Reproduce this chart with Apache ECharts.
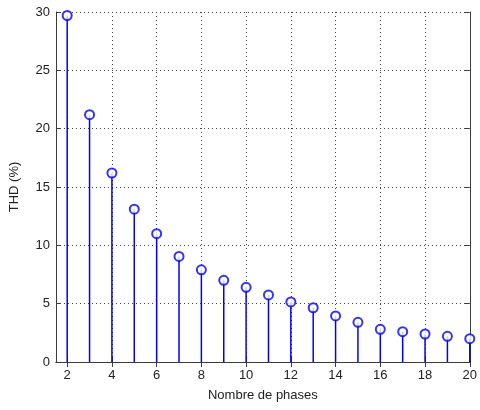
<!DOCTYPE html>
<html lang="fr">
<head>
  <meta charset="UTF-8">
  <title>THD</title>
  <style>body{margin:0;background:#fff}</style>
</head>
<body>
  <div id="main" style="width:480px;height:410px;"></div>
  <script src="https://cdn.jsdelivr.net/npm/echarts@6/dist/echarts.min.js"></script>
  <script>
    // nombre de phases et THD
    var phases = [2, 3, 4, 5, 6, 7, 8, 9, 10, 11, 12, 13, 14, 15, 16, 17, 18, 19, 20];
    var thd = [29.7, 21.2, 16.2, 13.1, 11.0, 9.05, 7.9, 7.0, 6.4, 5.75, 5.15, 4.65, 3.95, 3.4, 2.8, 2.6, 2.4, 2.2, 2.0];
    var xTicks = [2, 4, 6, 8, 10, 12, 14, 16, 18, 20];
    var yTicks = [0, 5, 10, 15, 20, 25, 30];

    var points = phases.map(function (p, i) { return [p, thd[i]]; });
    var axisCol = '#3c3c3c';
    var font = 'Arial, "Liberation Sans", sans-serif';

    var chart = echarts.init(document.getElementById('main'));

    // axe x : la boite commence un peu avant 2 (comme matlab)
    function xAxis(pos, show) {
      return {
        type: 'value', position: pos,
        min: 1.5, max: 20,
        name: show ? 'Nombre de phases' : '', nameLocation: 'middle', nameGap: 27,
        nameTextStyle: { fontFamily: font, fontSize: 13, color: '#222' },
        axisLine: { show: true, lineStyle: { color: axisCol, width: 1 } },
        axisTick: { show: true, inside: true, length: 5, customValues: xTicks, lineStyle: { color: axisCol } },
        axisLabel: { show: show, customValues: xTicks, fontFamily: font, fontSize: 13, color: '#222', margin: 7 },
        splitLine: { show: show, lineStyle: { color: '#444', type: [1, 3], width: 1 } }
      };
    }
    function yAxis(pos, show) {
      return {
        type: 'value', position: pos,
        min: yTicks[0], max: yTicks[yTicks.length - 1], interval: yTicks[1] - yTicks[0],
        name: show ? 'THD (%)' : '', nameLocation: 'middle', nameGap: 35,
        nameTextStyle: { fontFamily: font, fontSize: 13, color: '#222' },
        axisLine: { show: true, lineStyle: { color: axisCol, width: 1 } },
        axisTick: { show: true, inside: true, length: 5, lineStyle: { color: axisCol } },
        axisLabel: { show: show, fontFamily: font, fontSize: 13, color: '#222', margin: 6 },
        splitLine: { show: show, lineStyle: { color: '#444', type: [1, 3], width: 1 } }
      };
    }

    chart.setOption({
      animation: false,
      grid: { left: 55, top: 12, right: 9, bottom: 48 },
      xAxis: [xAxis('bottom', true), xAxis('top', false)],
      yAxis: [yAxis('left', true), yAxis('right', false)],
      series: [
        {
          type: 'bar',
          data: points,
          barWidth: 1.5,
          itemStyle: { color: '#0000ff' },
          silent: true
        },
        {
          type: 'scatter',
          data: points,
          symbol: 'emptyCircle',
          symbolSize: 9,
          itemStyle: { color: '#0000ff', borderColor: '#0000ff', borderWidth: 1 },
          z: 3
        }
      ]
    });
  </script>
</body>
</html>
